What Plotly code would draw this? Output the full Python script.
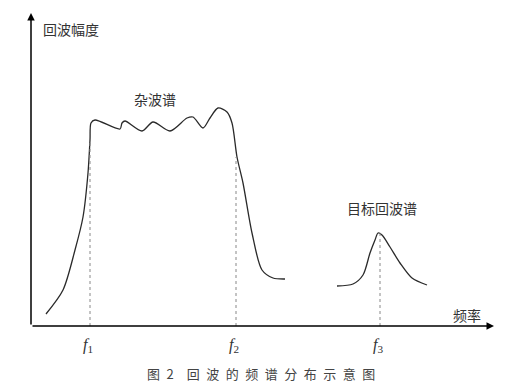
import plotly.graph_objects as go

# Clutter spectrum (frequency, amplitude) in arbitrary units
clutter_f = [15, 32, 44, 52, 57, 59, 60, 64, 89, 91, 94, 111, 122, 139, 156, 162, 172, 179, 187, 196, 201, 206, 212, 221, 231, 242, 254]
clutter_a = [12, 36, 76, 109, 153, 186, 203, 206, 197, 203, 205, 195, 204, 195, 208, 209, 198, 208, 218, 214, 203, 169, 143, 93, 56, 48, 47]

# Target echo spectrum
target_f = [306, 322, 332, 339, 344, 347, 351, 359, 369, 381, 396]
target_a = [40, 42, 51, 73, 86, 93, 91, 79, 63, 48, 41]

# Marker frequencies
marker_f = [59, 205, 349]
marker_top = [186, 169, 93]
marker_labels = ["<i>f</i><sub>1</sub>", "<i>f</i><sub>2</sub>", "<i>f</i><sub>3</sub>"]

caption_head = "图\u20022"
caption_body = "回波的频谱分布示意图"

fig = go.Figure()

fig.add_trace(go.Scatter(x=clutter_f, y=clutter_a, mode="lines",
                         line=dict(color="#2a2a2a", width=1.3, shape="spline", smoothing=0.8),
                         hoverinfo="skip"))
fig.add_trace(go.Scatter(x=target_f, y=target_a, mode="lines",
                         line=dict(color="#2a2a2a", width=1.3, shape="spline", smoothing=0.8),
                         hoverinfo="skip"))

for f, top in zip(marker_f, marker_top):
    fig.add_trace(go.Scatter(x=[f, f], y=[0, top], mode="lines",
                             line=dict(color="#888888", width=1, dash="dot"),
                             hoverinfo="skip"))

# axes with arrows
fig.add_annotation(x=463, y=0, ax=0, ay=0, xref="x", yref="y", axref="x", ayref="y",
                   showarrow=True, arrowhead=2, arrowsize=1, arrowwidth=1.5, arrowcolor="black", text="")
fig.add_annotation(x=0, y=313, ax=0, ay=0, xref="x", yref="y", axref="x", ayref="y",
                   showarrow=True, arrowhead=2, arrowsize=1, arrowwidth=1.5, arrowcolor="black", text="")

cjk = "Noto Sans CJK SC"
fig.add_annotation(x=10, y=297, text="回波幅度", showarrow=False, xanchor="left",
                   font=dict(family=cjk, size=14, color="#333"))
fig.add_annotation(x=436, y=11, text="频率", showarrow=False,
                   font=dict(family=cjk, size=14, color="#333"))
fig.add_annotation(x=124, y=227, text="杂波谱", showarrow=False,
                   font=dict(family=cjk, size=14, color="#333"))
fig.add_annotation(x=351, y=118, text="目标回波谱", showarrow=False,
                   font=dict(family=cjk, size=14, color="#333"))

for f, lab in zip(marker_f, marker_labels):
    fig.add_annotation(x=f - 2, y=-19, text=lab, showarrow=False,
                       font=dict(family="Liberation Serif", size=16, color="#333"))

caption = caption_head + "\u2003" + "\u2002".join(caption_body)
fig.add_annotation(x=230, y=-47, text=caption, showarrow=False,
                   font=dict(family=cjk, size=13, color="#444"))

fig.update_layout(width=520, height=390, margin=dict(l=0, r=0, t=0, b=0),
                  plot_bgcolor="white", paper_bgcolor="white", showlegend=False,
                  xaxis=dict(range=[-31, 489], visible=False, fixedrange=True),
                  yaxis=dict(range=[-64, 326], visible=False, fixedrange=True))

fig.write_html("out.html")
